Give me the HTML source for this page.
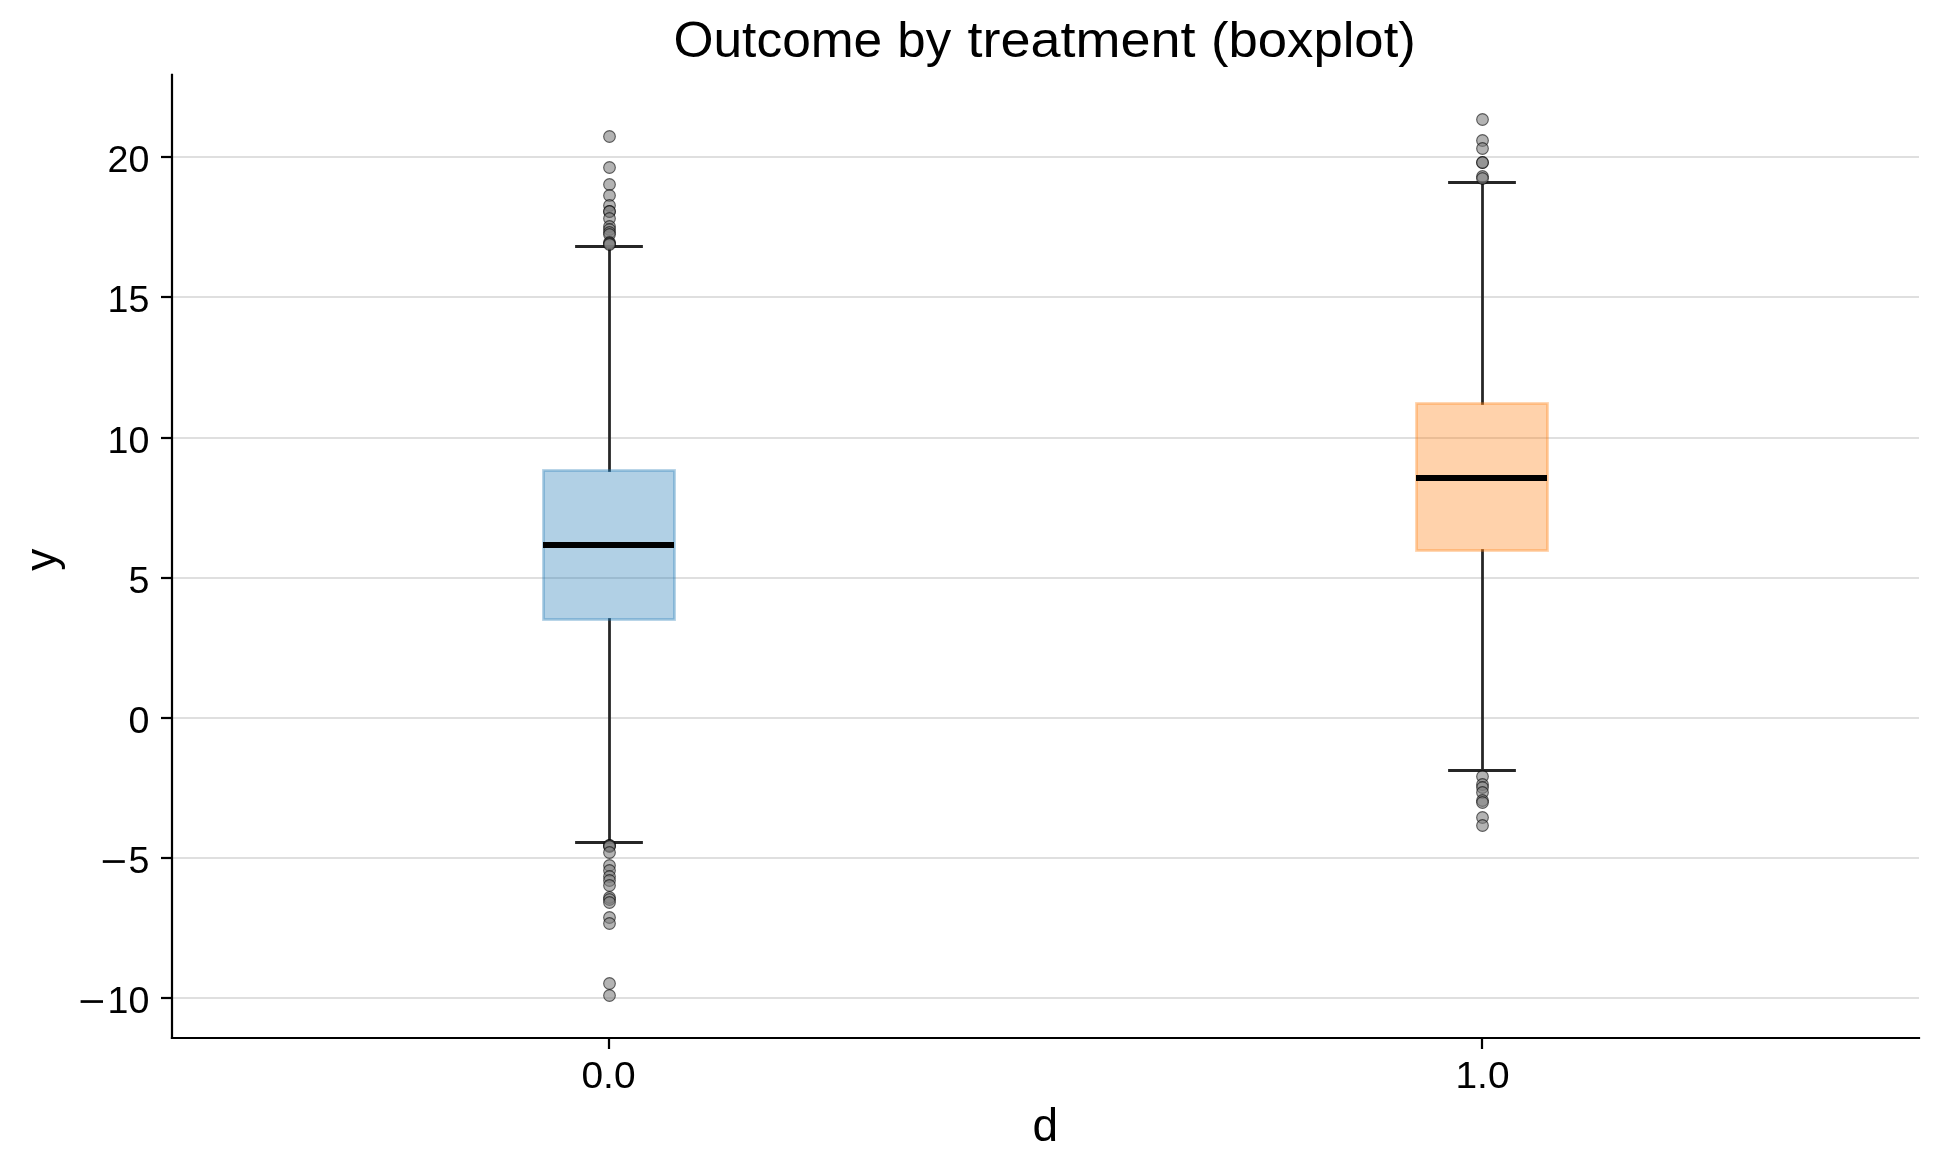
<!DOCTYPE html>
<html><head><meta charset="utf-8"><title>Outcome by treatment (boxplot)</title><style>
html,body{margin:0;padding:0;background:#fff;overflow:hidden;}
svg{display:block;will-change:transform;}
text{font-family:"Liberation Sans",sans-serif;fill:#000;}
</style></head><body>
<svg width="1940" height="1170" viewBox="0 0 1940 1170">
<rect width="1940" height="1170" fill="#fff"/>
<g stroke="#dfdfdf" stroke-width="2.2"><line x1="172" x2="1919" y1="157" y2="157"/><line x1="172" x2="1919" y1="297" y2="297"/><line x1="172" x2="1919" y1="438" y2="438"/><line x1="172" x2="1919" y1="578" y2="578"/><line x1="172" x2="1919" y1="718" y2="718"/><line x1="172" x2="1919" y1="858" y2="858"/><line x1="172" x2="1919" y1="998" y2="998"/></g>
<g stroke="#262626" stroke-width="2.78" fill="none" stroke-linecap="square">
<line x1="609.5" x2="609.5" y1="470.5" y2="246.5"/><line x1="609.5" x2="609.5" y1="619.5" y2="842.5"/>
<line x1="576.5" x2="641.5" y1="246.5" y2="246.5"/><line x1="576.5" x2="641.5" y1="842.5" y2="842.5"/>
<line x1="1482.5" x2="1482.5" y1="403.5" y2="182.5"/><line x1="1482.5" x2="1482.5" y1="550.5" y2="770.5"/>
<line x1="1449.5" x2="1514.5" y1="182.5" y2="182.5"/><line x1="1449.5" x2="1514.5" y1="770.5" y2="770.5"/>
</g>
<rect x="543.5" y="470.5" width="131" height="149" fill="#1f77b4" fill-opacity="0.35" stroke="#1f77b4" stroke-opacity="0.35" stroke-width="2.78"/>
<rect x="1416.5" y="403.5" width="131" height="147" fill="#ff7f0e" fill-opacity="0.35" stroke="#ff7f0e" stroke-opacity="0.35" stroke-width="2.78"/>
<g stroke="#000" stroke-width="6">
<line x1="543" x2="674" y1="545" y2="545"/>
<line x1="1416" x2="1547" y1="478" y2="478"/>
</g>
<g fill="#808080" fill-opacity="0.6" stroke="#000" stroke-opacity="0.6" stroke-width="1.1"><circle cx="609.5" cy="136.5" r="5.85"/><circle cx="609.5" cy="167.5" r="5.85"/><circle cx="609.5" cy="184.5" r="5.85"/><circle cx="609.5" cy="195.5" r="5.85"/><circle cx="609.5" cy="205.5" r="5.85"/><circle cx="609.5" cy="211.5" r="5.85"/><circle cx="609.5" cy="211.5" r="5.85"/><circle cx="609.5" cy="218.5" r="5.85"/><circle cx="609.5" cy="226.5" r="5.85"/><circle cx="609.5" cy="229.5" r="5.85"/><circle cx="609.5" cy="232.5" r="5.85"/><circle cx="609.5" cy="234.5" r="5.85"/><circle cx="609.5" cy="242.5" r="5.85"/><circle cx="609.5" cy="243.5" r="5.85"/><circle cx="609.5" cy="244.5" r="5.85"/><circle cx="609.5" cy="845.5" r="5.85"/><circle cx="609.5" cy="845.5" r="5.85"/><circle cx="609.5" cy="846.5" r="5.85"/><circle cx="609.5" cy="852.5" r="5.85"/><circle cx="609.5" cy="865.5" r="5.85"/><circle cx="609.5" cy="870.5" r="5.85"/><circle cx="609.5" cy="876.5" r="5.85"/><circle cx="609.5" cy="880.5" r="5.85"/><circle cx="609.5" cy="885.5" r="5.85"/><circle cx="609.5" cy="897.5" r="5.85"/><circle cx="609.5" cy="899.5" r="5.85"/><circle cx="609.5" cy="902.5" r="5.85"/><circle cx="609.5" cy="917.5" r="5.85"/><circle cx="609.5" cy="923.5" r="5.85"/><circle cx="609.5" cy="983.5" r="5.85"/><circle cx="609.5" cy="995.5" r="5.85"/><circle cx="1482.5" cy="119.5" r="5.85"/><circle cx="1482.5" cy="140.5" r="5.85"/><circle cx="1482.5" cy="148.5" r="5.85"/><circle cx="1482.5" cy="162.5" r="5.85"/><circle cx="1482.5" cy="162.5" r="5.85"/><circle cx="1482.5" cy="176.5" r="5.85"/><circle cx="1482.5" cy="178.5" r="5.85"/><circle cx="1482.5" cy="776.5" r="5.85"/><circle cx="1482.5" cy="784.5" r="5.85"/><circle cx="1482.5" cy="787.5" r="5.85"/><circle cx="1482.5" cy="792.5" r="5.85"/><circle cx="1482.5" cy="800.5" r="5.85"/><circle cx="1482.5" cy="802.5" r="5.85"/><circle cx="1482.5" cy="817.5" r="5.85"/><circle cx="1482.5" cy="825.5" r="5.85"/></g>
<g stroke="#000" stroke-width="2.22" stroke-linecap="square">
<line x1="172" x2="172" y1="74.9" y2="1038"/><line x1="172" x2="1919" y1="1038" y2="1038"/>
</g>
<g stroke="#000" stroke-width="2.22"><line x1="161" x2="172" y1="157" y2="157"/><line x1="161" x2="172" y1="297" y2="297"/><line x1="161" x2="172" y1="438" y2="438"/><line x1="161" x2="172" y1="578" y2="578"/><line x1="161" x2="172" y1="718" y2="718"/><line x1="161" x2="172" y1="858" y2="858"/><line x1="161" x2="172" y1="998" y2="998"/><line x1="609" x2="609" y1="1038" y2="1049"/><line x1="1482" x2="1482" y1="1038" y2="1049"/></g>
<g font-size="36.5"><text transform="translate(149.3,171.60) scale(1.03,1)" text-anchor="end">20</text><text transform="translate(149.3,311.60) scale(1.03,1)" text-anchor="end">15</text><text transform="translate(149.3,452.60) scale(1.03,1)" text-anchor="end">10</text><text transform="translate(149.3,592.60) scale(1.03,1)" text-anchor="end">5</text><text transform="translate(149.3,732.60) scale(1.03,1)" text-anchor="end">0</text><text transform="translate(149.3,872.60) scale(1.03,1)" text-anchor="end">5</text><text transform="translate(149.3,1012.60) scale(1.03,1)" text-anchor="end">10</text><rect x="102.8" y="860.20" width="22" height="2.7"/><rect x="80.6" y="1000.20" width="22.4" height="2.7"/>
<text transform="translate(608.5,1088) scale(1.065,1)" text-anchor="middle">0.0</text>
<text transform="translate(1482.5,1088) scale(1.065,1)" text-anchor="middle">1.0</text>
</g>
<g font-size="50">
<text transform="translate(673.5,57.2) scale(1.029,1)">Outcome</text>
<text transform="translate(897.3,57.2) scale(1.02,1)">by</text>
<text transform="translate(967.6,57.2) scale(1.08,1)">treatment</text>
<text transform="translate(1211,57.2) scale(1.053,1)">(boxplot)</text>
</g>
<text x="1045.3" y="1140.6" font-size="46" text-anchor="middle">d</text>
<text transform="translate(56,559.8) rotate(-90)" font-size="44" text-anchor="middle">y</text>
</svg>
</body></html>
